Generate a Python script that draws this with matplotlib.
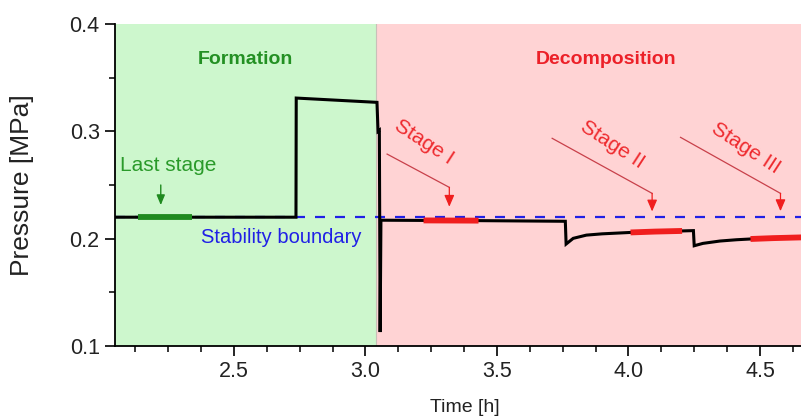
"""Pressure trace during hydrate formation and stepwise decomposition."""

import matplotlib

matplotlib.use("Agg")
import matplotlib.pyplot as plt
import numpy as np

time_h = [
    2.048, 2.135, 2.340, 2.736, 2.737, 3.044, 3.048, 3.053, 3.056, 3.059,
    3.221, 3.430, 3.760, 3.763, 3.790, 3.840, 3.900, 4.008, 4.100, 4.204,
    4.247, 4.250, 4.283, 4.348, 4.411, 4.464, 4.550, 4.660,
]
pressure_mpa = [
    0.2200, 0.2200, 0.2200, 0.2200, 0.3310, 0.3270, 0.3000, 0.3010, 0.1130, 0.2172,
    0.2170, 0.2168, 0.2162, 0.1950, 0.2003, 0.2033, 0.2045, 0.2058, 0.2066, 0.2072,
    0.2075, 0.1934, 0.1956, 0.1978, 0.1990, 0.1997, 0.2005, 0.2012,
]

stability_boundary = 0.22
formation_end = 3.042
last_stage_window = (2.135, 2.340)
stage_names = ["Stage I", "Stage II", "Stage III"]
stage_windows = [(3.221, 3.430), (4.008, 4.204), (4.464, 4.660)]
# leader line start, knee x/y, arrow tip y, label centre
stage_leader_start = [(3.0825, 0.2788), (3.710, 0.2935), (4.198, 0.2944)]
stage_knee = [(3.319, 0.2478), (4.090, 0.2422), (4.578, 0.2422)]
stage_tip_y = [0.2297, 0.2253, 0.2256]
stage_label_pos = [(3.222, 0.2903), (3.938, 0.2872), (4.445, 0.2842)]

XLIM = (2.048, 4.656)
YLIM = (0.1, 0.4)

GREEN_BG = "#cdf7cd"
RED_BG = "#ffd3d4"
GREEN = "#2a9a2a"
RED = "#ee2a2e"
LEADER = "#c8404a"
BLUE = "#2020e6"

plt.rcParams["font.family"] = ["Liberation Sans", "DejaVu Sans"]


def highlight(ax, window, color, lw=4.2):
    t = np.asarray(time_h)
    p = np.asarray(pressure_mpa)
    mask = (t >= window[0]) & (t <= window[1])
    ax.plot(t[mask], p[mask], color=color, lw=lw, solid_capstyle="butt", zorder=4)


def main():
    fig = plt.figure(figsize=(8.01, 4.2), dpi=100)
    ax = fig.add_axes([115 / 801, 1 - 346 / 420, 1 - 115 / 801, (346 - 24) / 420])

    ax.axvspan(XLIM[0], formation_end, color=GREEN_BG, lw=0, zorder=0)
    ax.axvspan(formation_end, XLIM[1], color=RED_BG, lw=0, zorder=0)
    ax.axvline(formation_end, color="#c8c0b8", lw=0.8, zorder=0.5)

    ax.plot(time_h, pressure_mpa, color="black", lw=2.2, zorder=3,
            solid_joinstyle="miter")
    ax.axhline(stability_boundary, color=BLUE, lw=1.6, ls=(0, (4.5, 4.5)), zorder=2)

    highlight(ax, last_stage_window, "#1f8a1f")
    for window in stage_windows:
        highlight(ax, window, "#f01e1e")

    ax.text(2.542, 0.3665, "Formation", color="#239023", fontsize=14,
            fontweight="bold", ha="center", va="center")
    ax.text(3.916, 0.3665, "Decomposition", color="#ec2028", fontsize=14,
            fontweight="bold", ha="center", va="center")
    ax.text(2.679, 0.2015, "Stability boundary", color=BLUE, fontsize=14.5,
            ha="center", va="center")

    ax.text(2.249, 0.2686, "Last stage", color=GREEN, fontsize=15,
            ha="center", va="center")
    ax.annotate("", xy=(2.222, 0.2313), xytext=(2.222, 0.2500),
                arrowprops=dict(arrowstyle="-|>,head_length=0.6,head_width=0.25",
                                color="#1f8a1f", lw=1.0, shrinkA=0, shrinkB=0))

    for name, start, knee, tip_y, pos in zip(stage_names, stage_leader_start,
                                              stage_knee, stage_tip_y, stage_label_pos):
        ax.plot([start[0], knee[0]], [start[1], knee[1]], color=LEADER, lw=0.9, zorder=3)
        ax.annotate("", xy=(knee[0], tip_y), xytext=knee,
                    arrowprops=dict(arrowstyle="-|>,head_length=0.7,head_width=0.3",
                                    color="#f01e1e", lw=0.9, shrinkA=0, shrinkB=0))
        ax.text(pos[0], pos[1], name, color=RED, fontsize=15, rotation=-33,
                ha="center", va="center", rotation_mode="anchor")

    ax.set_xlim(*XLIM)
    ax.set_ylim(*YLIM)
    ax.set_xticks([2.5, 3.0, 3.5, 4.0, 4.5])
    ax.set_xticks(np.arange(2.125, 4.66, 0.125), minor=True)
    ax.set_yticks([0.1, 0.2, 0.3, 0.4])
    ax.set_yticks([0.15, 0.25, 0.35], minor=True)
    ax.xaxis.set_major_formatter(matplotlib.ticker.FormatStrFormatter("%.1f"))
    ax.yaxis.set_major_formatter(matplotlib.ticker.FormatStrFormatter("%.1f"))
    ax.tick_params(which="major", direction="out", length=7, width=1.2,
                   labelsize=15.5, colors="black", labelcolor="#222222", pad=4)
    ax.tick_params(which="minor", direction="out", length=4.5, width=1.1)

    for side in ("top", "right"):
        ax.spines[side].set_visible(False)
    for side in ("left", "bottom"):
        ax.spines[side].set_linewidth(1.3)

    ax.set_xlabel("Time [h]", fontsize=14, color="#222222")
    ax.xaxis.set_label_coords(0.51, -0.165)
    ax.set_ylabel("Pressure [MPa]", fontsize=19, color="#222222")
    ax.yaxis.set_label_coords(-0.118, 0.5)

    fig.savefig("out.png", dpi=100)
    plt.close(fig)


if __name__ == "__main__":
    main()
